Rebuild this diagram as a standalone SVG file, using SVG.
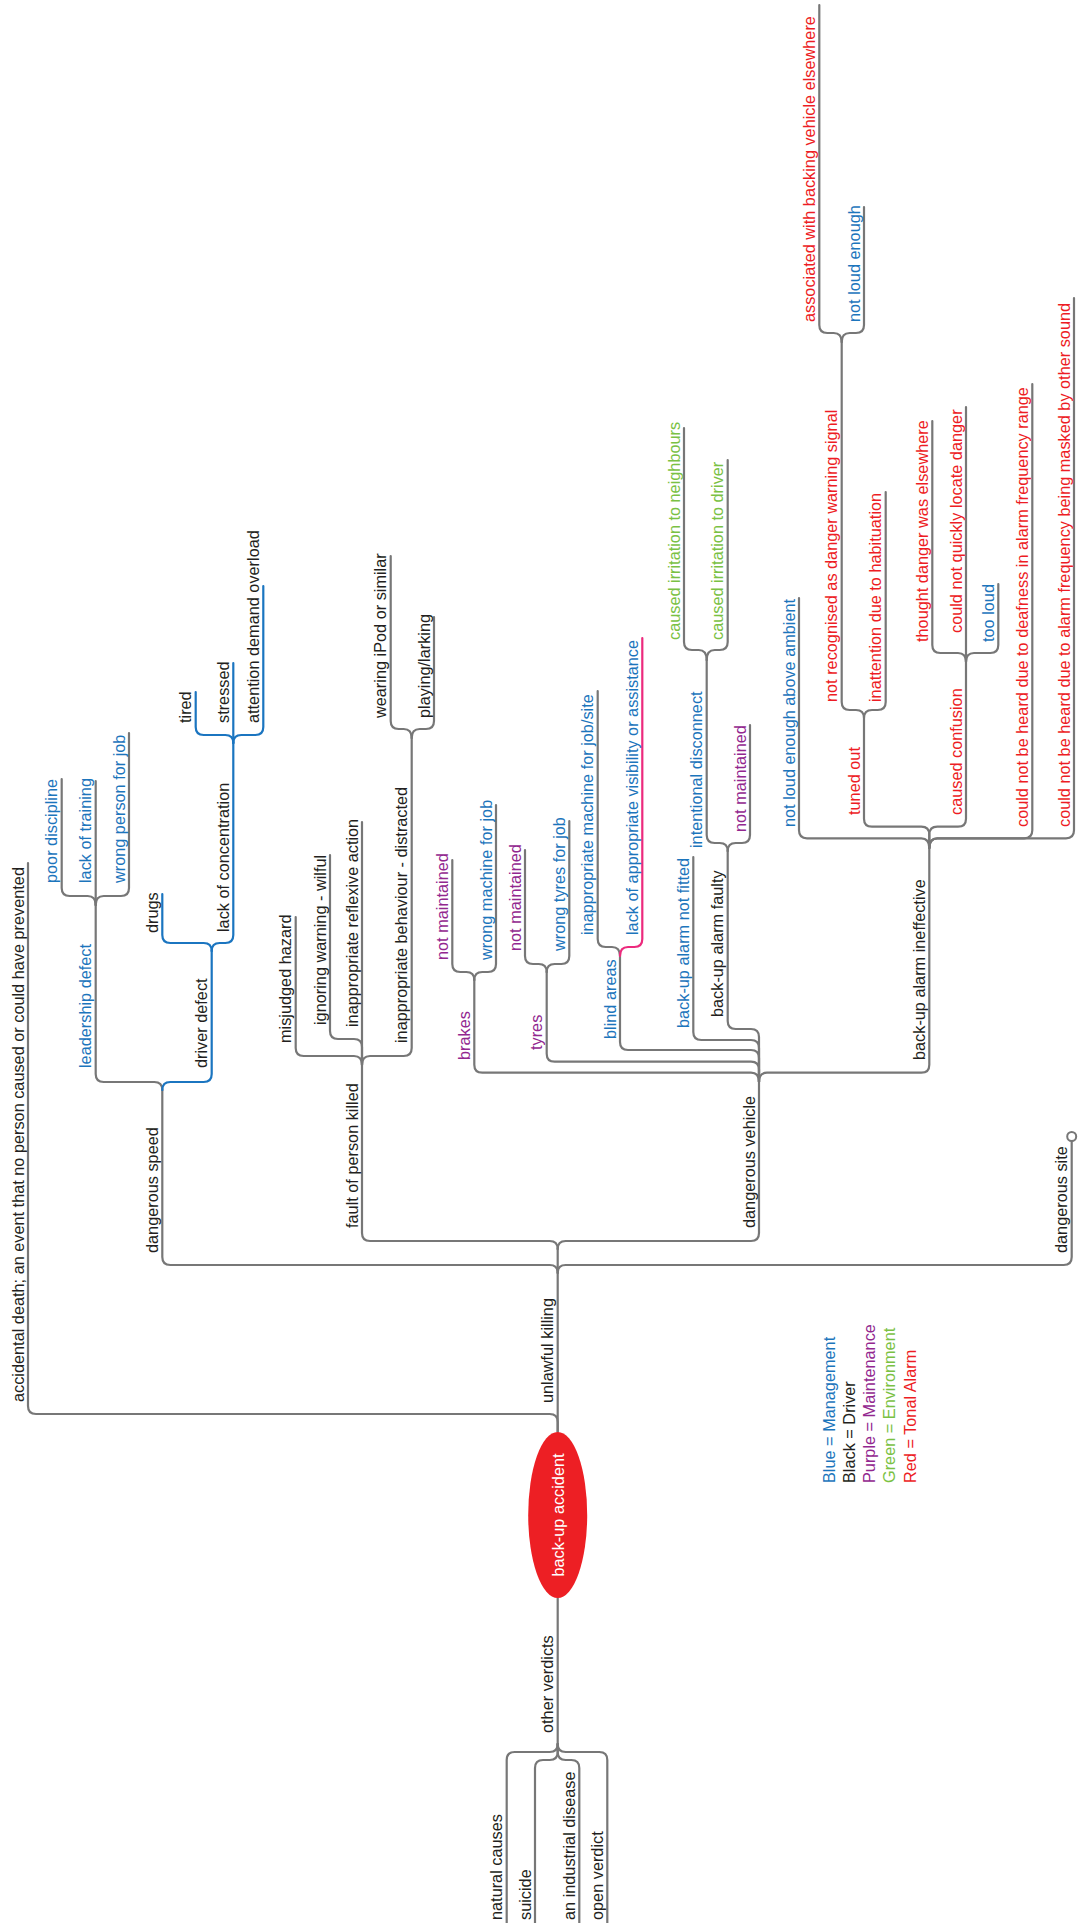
<svg xmlns="http://www.w3.org/2000/svg" width="1081" height="1923" viewBox="0 0 1081 1923">
<style>
.t{font-family:"Liberation Sans",Arial,Helvetica,sans-serif;font-size:16.3px}
.k{fill:#231f20}.b{fill:#1c75bc}.p{fill:#92278f}.g{fill:#7ac143}.r{fill:#ed1c24}.w{fill:#ffffff}
.c{fill:none;stroke:#777777;stroke-width:2.2;stroke-linecap:round}
.cb{stroke:#1b75c0}.cp{stroke:#ec2a7d}
</style>
<rect width="1081" height="1923" fill="#ffffff"/>
<g id="connectors">
<path class="c" d="M557.7,1432 L557.7,1249"/>
<path class="c" d="M557.7,1432 L557.7,1422 Q557.7,1414 549.7,1414 L36,1414 Q28,1414 28,1406 L28,863"/>
<path class="c" d="M557.7,1273 Q557.7,1265 549.7,1265 L170.3,1265 Q162.3,1265 162.3,1257 L162.3,1090"/>
<path class="c" d="M557.7,1273 Q557.7,1265 565.7,1265 L1063.7,1265 Q1071.7,1265 1071.7,1257 L1071.7,1141"/>
<path class="c" d="M557.7,1249 Q557.7,1241 549.7,1241 L370,1241 Q362,1241 362,1233 L362,1065"/>
<path class="c" d="M557.7,1249 Q557.7,1241 565.7,1241 L751,1241 Q759,1241 759,1233 L759,1082"/>
<path class="c" d="M162.3,1090 Q162.3,1082 154.3,1082 L103.7,1082 Q95.7,1082 95.7,1074 L95.7,905"/>
<path class="c cb" d="M162.3,1090 Q162.3,1082 170.3,1082 L203.7,1082 Q211.7,1082 211.7,1074 L211.7,951"/>
<path class="c" d="M95.7,905 Q95.7,896 87.7,896 L69.7,896 Q61.7,896 61.7,888 L61.7,779"/>
<path class="c" d="M95.7,905 L95.7,781"/>
<path class="c" d="M95.7,905 Q95.7,896 103.7,896 L121,896 Q129,896 129,888 L129,733"/>
<path class="c cb" d="M211.7,951 Q211.7,943 203.7,943 L170.3,943 Q162.3,943 162.3,935 L162.3,894"/>
<path class="c cb" d="M211.7,951 Q211.7,943 219.7,943 L225.3,943 Q233.3,943 233.3,935 L233.3,743"/>
<path class="c cb" d="M233.3,743 Q233.3,735 225.3,735 L203.7,735 Q195.7,735 195.7,727 L195.7,692"/>
<path class="c cb" d="M233.3,743 L233.3,663"/>
<path class="c cb" d="M233.3,743 Q233.3,735 241.3,735 L255.3,735 Q263.3,735 263.3,727 L263.3,586"/>
<path class="c" d="M362,1065 Q362,1056 354,1056 L303.7,1056 Q295.7,1056 295.7,1048 L295.7,917"/>
<path class="c" d="M362,1065 L362,1047 Q362,1039 354,1039 L338,1039 Q330,1039 330,1031 L330,855"/>
<path class="c" d="M362,1065 L362,822"/>
<path class="c" d="M362,1065 Q362,1056 370,1056 L403.7,1056 Q411.7,1056 411.7,1048 L411.7,738"/>
<path class="c" d="M411.7,738 Q411.7,729 403.7,729 L398.7,729 Q390.7,729 390.7,721 L390.7,556"/>
<path class="c" d="M411.7,738 Q411.7,729 419.7,729 L426,729 Q434,729 434,721 L434,617"/>
<path class="c" d="M759,1082 Q759,1072.7 751,1072.7 L482.3,1072.7 Q474.3,1072.7 474.3,1064.7 L474.3,980"/>
<path class="c" d="M759,1082 L759,1069.7 Q759,1061.7 751,1061.7 L554.7,1061.7 Q546.7,1061.7 546.7,1053.7 L546.7,972"/>
<path class="c" d="M759,1082 L759,1058 Q759,1050 751,1050 L628,1050 Q620,1050 620,1042 L620,956"/>
<path class="c" d="M759,1082 L759,1048 Q759,1040 751,1040 L701.3,1040 Q693.3,1040 693.3,1032 L693.3,857"/>
<path class="c" d="M759,1082 L759,1037 Q759,1029 751,1029 L735.7,1029 Q727.7,1029 727.7,1021 L727.7,851"/>
<path class="c" d="M759,1082 Q759,1072.7 767,1072.7 L921.3,1072.7 Q929.3,1072.7 929.3,1064.7 L929.3,848"/>
<path class="c" d="M474.3,980 Q474.3,972 466.3,972 L460.3,972 Q452.3,972 452.3,964 L452.3,860"/>
<path class="c" d="M474.3,980 Q474.3,972 482.3,972 L488,972 Q496,972 496,964 L496,805"/>
<path class="c" d="M546.7,972 Q546.7,964 538.7,964 L533,964 Q525,964 525,956 L525,850"/>
<path class="c" d="M546.7,972 Q546.7,964 554.7,964 L561.3,964 Q569.3,964 569.3,956 L569.3,821"/>
<path class="c" d="M620,956 Q620,947 612,947 L605.7,947 Q597.7,947 597.7,939 L597.7,691"/>
<path class="c cp" d="M620,956 Q620,947 628,947 L634.3,947 Q642.3,947 642.3,939 L642.3,638"/>
<path class="c" d="M727.7,851 Q727.7,843 719.7,843 L714.7,843 Q706.7,843 706.7,835 L706.7,660"/>
<path class="c" d="M727.7,851 Q727.7,843 735.7,843 L742,843 Q750,843 750,835 L750,725"/>
<path class="c" d="M706.7,660 Q706.7,650 698.7,650 L692,650 Q684,650 684,642 L684,428"/>
<path class="c" d="M706.7,660 Q706.7,650 714.7,650 L719.7,650 Q727.7,650 727.7,642 L727.7,460"/>
<path class="c" d="M929.3,848 Q929.3,838.3 921.3,838.3 L807,838.3 Q799,838.3 799,830.3 L799,598"/>
<path class="c" d="M929.3,848 L929.3,834.7 Q929.3,826.7 921.3,826.7 L872,826.7 Q864,826.7 864,818.7 L864,718"/>
<path class="c" d="M929.3,848 L929.3,834.7 Q929.3,826.7 937.3,826.7 L958,826.7 Q966,826.7 966,818.7 L966,662"/>
<path class="c" d="M929.3,848 Q929.3,838.3 937.3,838.3 L1024.3,838.3 Q1032.3,838.3 1032.3,830.3 L1032.3,384"/>
<path class="c" d="M929.3,848 Q929.3,838.3 937.3,838.3 L1066,838.3 Q1074,838.3 1074,830.3 L1074,298"/>
<path class="c" d="M864,718 Q864,710 856,710 L849.7,710 Q841.7,710 841.7,702 L841.7,342"/>
<path class="c" d="M864,718 Q864,710 872,710 L877.7,710 Q885.7,710 885.7,702 L885.7,492"/>
<path class="c" d="M841.7,342 Q841.7,333 833.7,333 L827.3,333 Q819.3,333 819.3,325 L819.3,5"/>
<path class="c" d="M841.7,342 Q841.7,333 849.7,333 L856,333 Q864,333 864,325 L864,207"/>
<path class="c" d="M966,662 Q966,653 958,653 L940.3,653 Q932.3,653 932.3,645 L932.3,421"/>
<path class="c" d="M966,662 L966,407"/>
<path class="c" d="M966,662 Q966,653 974,653 L990.3,653 Q998.3,653 998.3,645 L998.3,584"/>
<path class="c" d="M557.7,1598 L557.7,1744"/>
<path class="c" d="M557.7,1744 Q557.7,1752 549.7,1752 L514.7,1752 Q506.7,1752 506.7,1760 L506.7,1923"/>
<path class="c" d="M557.7,1744 L557.7,1752 Q557.7,1760 549.7,1760 L543,1760 Q535,1760 535,1768 L535,1923"/>
<path class="c" d="M557.7,1744 L557.7,1752 Q557.7,1760 565.7,1760 L571.3,1760 Q579.3,1760 579.3,1768 L579.3,1923"/>
<path class="c" d="M557.7,1744 Q557.7,1752 565.7,1752 L599.3,1752 Q607.3,1752 607.3,1760 L607.3,1923"/>
<circle cx="1071.7" cy="1136.5" r="4.5" fill="#ffffff" stroke="#777777" stroke-width="2"/>
</g>
<g id="root"><ellipse cx="557.7" cy="1515" rx="29.5" ry="83" fill="#ed1f24"/><text class="t w" text-anchor="middle" transform="translate(563.5,1515) rotate(-90)">back-up accident</text></g>
<g id="n-unlawful"><text class="t k" transform="translate(553.2,1403) rotate(-90)">unlawful killing</text></g>
<g id="n-accidental"><text class="t k" transform="translate(23.5,1402) rotate(-90)">accidental death; an event that no person caused or could have prevented</text></g>
<g id="n-speed"><text class="t k" transform="translate(157.8,1253) rotate(-90)">dangerous speed</text></g>
<g id="n-site"><text class="t k" transform="translate(1067.2,1253) rotate(-90)">dangerous site</text></g>
<g id="n-fault"><text class="t k" transform="translate(357.5,1228) rotate(-90)">fault of person killed</text></g>
<g id="n-vehicle"><text class="t k" transform="translate(754.5,1228) rotate(-90)">dangerous vehicle</text></g>
<g id="n-leadership"><text class="t b" transform="translate(91.2,1068) rotate(-90)">leadership defect</text></g>
<g id="n-driver"><text class="t k" transform="translate(207.2,1068) rotate(-90)">driver defect</text></g>
<g id="n-poor"><text class="t b" transform="translate(57.2,883) rotate(-90)">poor discipline</text></g>
<g id="n-training"><text class="t b" transform="translate(91.2,883) rotate(-90)">lack of training</text></g>
<g id="n-wrongperson"><text class="t b" transform="translate(124.5,883) rotate(-90)">wrong person for job</text></g>
<g id="n-drugs"><text class="t k" transform="translate(157.8,933) rotate(-90)">drugs</text></g>
<g id="n-concentration"><text class="t k" transform="translate(228.8,932) rotate(-90)">lack of concentration</text></g>
<g id="n-tired"><text class="t k" transform="translate(191.2,723) rotate(-90)">tired</text></g>
<g id="n-stressed"><text class="t k" transform="translate(228.8,723) rotate(-90)">stressed</text></g>
<g id="n-attention"><text class="t k" transform="translate(258.8,723) rotate(-90)">attention demand overload</text></g>
<g id="n-misjudged"><text class="t k" transform="translate(291.2,1043) rotate(-90)">misjudged hazard</text></g>
<g id="n-ignoring"><text class="t k" transform="translate(325.5,1025) rotate(-90)">ignoring warning - wilful</text></g>
<g id="n-reflexive"><text class="t k" transform="translate(357.5,1027) rotate(-90)">inappropriate reflexive action</text></g>
<g id="n-behaviour"><text class="t k" transform="translate(407.2,1043) rotate(-90)">inappropriate behaviour - distracted</text></g>
<g id="n-ipod"><text class="t k" transform="translate(386.2,718) rotate(-90)">wearing iPod or similar</text></g>
<g id="n-playing"><text class="t k" transform="translate(429.5,718) rotate(-90)">playing/larking</text></g>
<g id="n-brakes"><text class="t p" transform="translate(469.8,1060) rotate(-90)">brakes</text></g>
<g id="n-tyres"><text class="t p" transform="translate(542.2,1050) rotate(-90)">tyres</text></g>
<g id="n-blind"><text class="t b" transform="translate(615.5,1039) rotate(-90)">blind areas</text></g>
<g id="n-notfitted"><text class="t b" transform="translate(688.8,1028) rotate(-90)">back-up alarm not fitted</text></g>
<g id="n-faulty"><text class="t k" transform="translate(723.2,1017) rotate(-90)">back-up alarm faulty</text></g>
<g id="n-ineffective"><text class="t k" transform="translate(924.8,1060) rotate(-90)">back-up alarm ineffective</text></g>
<g id="n-brakes-nm"><text class="t p" transform="translate(447.8,960) rotate(-90)">not maintained</text></g>
<g id="n-wrongmachine"><text class="t b" transform="translate(491.5,960) rotate(-90)">wrong machine for job</text></g>
<g id="n-tyres-nm"><text class="t p" transform="translate(520.5,951) rotate(-90)">not maintained</text></g>
<g id="n-wrongtyres"><text class="t b" transform="translate(564.8,951) rotate(-90)">wrong tyres for job</text></g>
<g id="n-inapmachine"><text class="t b" transform="translate(593.2,935) rotate(-90)">inappropriate machine for job/site</text></g>
<g id="n-visibility"><text class="t b" transform="translate(637.8,935) rotate(-90)">lack of appropriate visibility or assistance</text></g>
<g id="n-disconnect"><text class="t b" transform="translate(702.2,848) rotate(-90)">intentional disconnect</text></g>
<g id="n-faulty-nm"><text class="t p" transform="translate(745.5,832) rotate(-90)">not maintained</text></g>
<g id="n-neighbours"><text class="t g" transform="translate(679.5,640) rotate(-90)">caused irritation to neighbours</text></g>
<g id="n-irrdriver"><text class="t g" transform="translate(723.2,640) rotate(-90)">caused irritation to driver</text></g>
<g id="n-ambient"><text class="t b" transform="translate(794.5,827) rotate(-90)">not loud enough above ambient</text></g>
<g id="n-tuned"><text class="t r" transform="translate(859.5,815) rotate(-90)">tuned out</text></g>
<g id="n-confusion"><text class="t r" transform="translate(961.5,815) rotate(-90)">caused confusion</text></g>
<g id="n-deafness"><text class="t r" transform="translate(1027.8,827) rotate(-90)">could not be heard due to deafness in alarm frequency range</text></g>
<g id="n-masked"><text class="t r" transform="translate(1069.5,827) rotate(-90)">could not be heard due to alarm frequency being masked by other sound</text></g>
<g id="n-notrecog"><text class="t r" transform="translate(837.2,702) rotate(-90)">not recognised as danger warning signal</text></g>
<g id="n-inattention"><text class="t r" transform="translate(881.2,702) rotate(-90)">inattention due to habituation</text></g>
<g id="n-associated"><text class="t r" transform="translate(814.8,322) rotate(-90)">associated with backing vehicle elsewhere</text></g>
<g id="n-notloud"><text class="t b" transform="translate(859.5,322) rotate(-90)">not loud enough</text></g>
<g id="n-thought"><text class="t r" transform="translate(927.8,642) rotate(-90)">thought danger was elsewhere</text></g>
<g id="n-locate"><text class="t r" transform="translate(961.5,633) rotate(-90)">could not quickly locate danger</text></g>
<g id="n-tooloud"><text class="t b" transform="translate(993.8,642) rotate(-90)">too loud</text></g>
<g id="n-otherverdicts"><text class="t k" transform="translate(553.2,1733) rotate(-90)">other verdicts</text></g>
<g id="n-natural"><text class="t k" transform="translate(502.2,1920) rotate(-90)">natural causes</text></g>
<g id="n-suicide"><text class="t k" transform="translate(530.5,1920) rotate(-90)">suicide</text></g>
<g id="n-industrial"><text class="t k" transform="translate(574.8,1920) rotate(-90)">an industrial disease</text></g>
<g id="n-open"><text class="t k" transform="translate(602.8,1920) rotate(-90)">open verdict</text></g>
<g id="legend">
<text class="t b" transform="translate(834.5,1483) rotate(-90)">Blue = Management</text>
<text class="t k" transform="translate(854.8,1483) rotate(-90)">Black = Driver</text>
<text class="t p" transform="translate(875,1483) rotate(-90)">Purple = Maintenance</text>
<text class="t g" transform="translate(895.3,1483) rotate(-90)">Green = Environment</text>
<text class="t r" transform="translate(915.6,1483) rotate(-90)">Red = Tonal Alarm</text>
</g>
</svg>
